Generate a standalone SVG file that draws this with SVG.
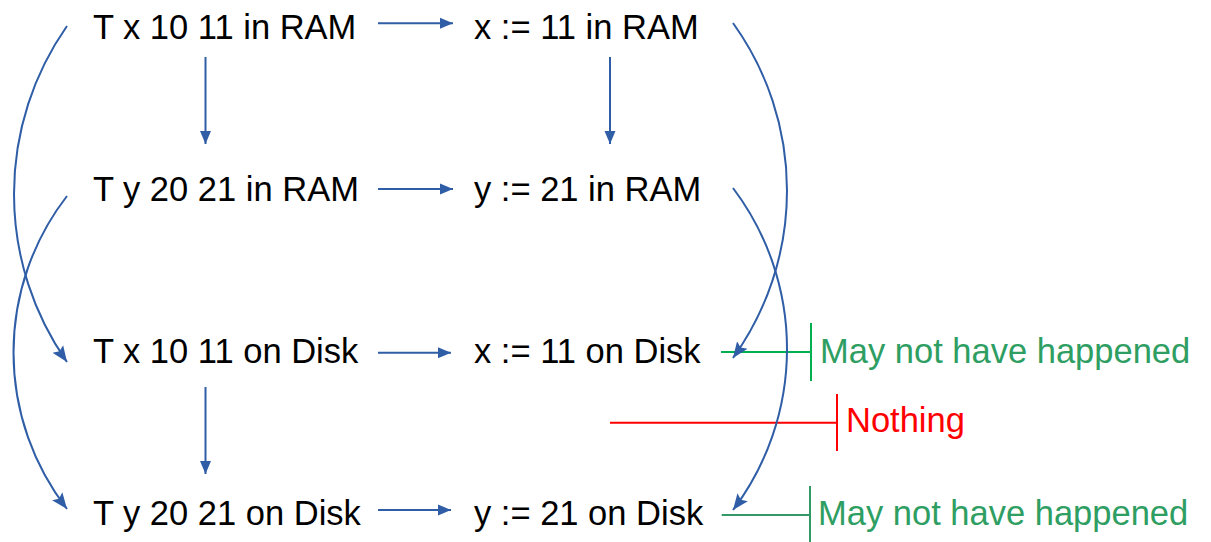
<svg xmlns="http://www.w3.org/2000/svg" width="1211" height="542" viewBox="0 0 1211 542">
  <style>
    .t { font-family: "Liberation Sans", Arial, sans-serif; font-size: 34.5px; fill: #000; }
    .g { fill: #2E9E62; }
    .r { fill: #FF0000; }
    .c { fill: none; stroke: #2F5DA6; stroke-width: 2; }
    .str { marker-end: url(#ah); }
    .cur { marker-end: url(#ahc); }
    .gl { fill: none; stroke: #00B050; stroke-width: 2; }
    .gl2 { fill: none; stroke: #339966; stroke-width: 2; }
    .rl { fill: none; stroke: #FF0000; stroke-width: 2; }
  </style>
  <defs>
    <marker id="ah" markerUnits="userSpaceOnUse" markerWidth="14" markerHeight="12" refX="13" refY="6" orient="auto">
      <path d="M0,0.5 L13,6 L0,11.5 z" fill="#2F5DA6"/>
    </marker>
    <marker id="ahc" markerUnits="userSpaceOnUse" markerWidth="17" markerHeight="14" refX="16" refY="7" orient="auto">
      <path d="M0,0.5 L16,7 L0,13.5 L3,7 z" fill="#2F5DA6"/>
    </marker>
  </defs>
  <rect width="1211" height="542" fill="#fff"/>

  <g id="connectors">
    <!-- horizontal arrows -->
    <path class="c str" d="M378,23.3 H453"/>
    <path class="c str" d="M378,189 H453"/>
    <path class="c str" d="M378,352.7 H451"/>
    <path class="c str" d="M378,510 H451"/>
    <!-- vertical arrows -->
    <path class="c str" d="M205.5,57 V144"/>
    <path class="c str" d="M610,57 V144"/>
    <path class="c str" d="M205.5,387 V474"/>
    <!-- left curves -->
    <path class="c cur" d="M67,26 A292.8,292.8 0 0 0 67,362"/>
    <path class="c cur" d="M67,196 A255.7,255.7 0 0 0 67,509"/>
    <!-- markers: green/red brackets -->
    <path class="gl" d="M721,352 H811 M811,323 V381"/>
    <path class="rl" d="M610,422.7 H837 M837,394 V451"/>
    <path class="gl2" d="M721.7,515 H810 M810,486 V542"/>
    <!-- right curves -->
    <path class="c cur" d="M733,23 A286.8,286.8 0 0 1 733,358"/>
    <path class="c cur" d="M733,188 A267,267 0 0 1 733,510"/>
  </g>

  <g id="n-tx-ram"><text class="t" x="93" y="39.3">T x 10 11 in RAM</text></g>
  <g id="n-x-ram"><text class="t" x="474" y="39.3">x := 11 in RAM</text></g>
  <g id="n-ty-ram"><text class="t" x="93" y="200.5">T y 20 21 in RAM</text></g>
  <g id="n-y-ram"><text class="t" x="474" y="200.5">y := 21 in RAM</text></g>
  <g id="n-tx-disk"><text class="t" x="93" y="363.3">T x 10 11 on Disk</text></g>
  <g id="n-x-disk"><text class="t" x="474" y="363.3">x := 11 on Disk</text></g>
  <g id="n-ty-disk"><text class="t" x="93" y="525">T y 20 21 on Disk</text></g>
  <g id="n-y-disk"><text class="t" x="474" y="525">y := 21 on Disk</text></g>
  <g id="lbl-may1"><text class="t g" x="820" y="362.7">May not have happened</text></g>
  <g id="lbl-nothing"><text class="t r" x="846" y="432.3">Nothing</text></g>
  <g id="lbl-may2"><text class="t g" x="818" y="525">May not have happened</text></g>
</svg>
